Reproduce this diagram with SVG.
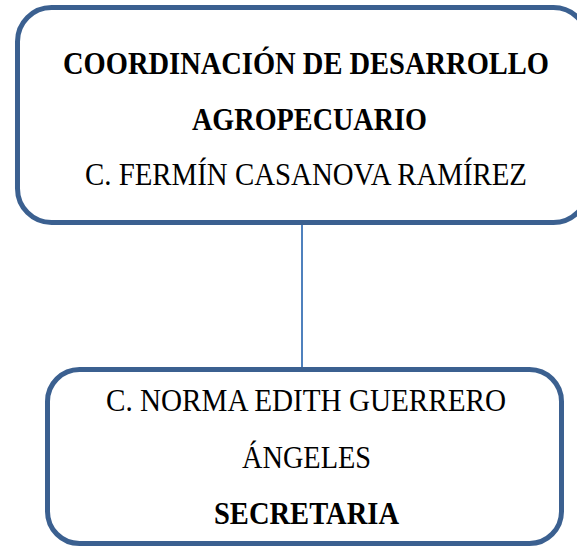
<svg xmlns="http://www.w3.org/2000/svg" width="577" height="546" viewBox="0 0 577 546">
<style>
.box{fill:#fff;stroke:#3B6090;stroke-width:5}
.t{font-family:"Liberation Serif","DejaVu Serif",serif;font-size:32px;fill:#000;text-anchor:middle}
.b{font-weight:bold}
.conn{stroke:#4F81BD;stroke-width:2;fill:none}
</style>
<rect width="577" height="546" fill="#fff"/>
<g id="connectors">
<line class="conn" x1="302" y1="224" x2="302" y2="368"/>
</g>
<g id="node-coordinacion">
<rect class="box" x="17.5" y="7.5" width="570" height="215" rx="34" ry="34"/>
<text class="t b" x="306" y="74" textLength="486" lengthAdjust="spacingAndGlyphs">COORDINACIÓN DE DESARROLLO</text>
<text class="t b" x="309.5" y="130" textLength="235" lengthAdjust="spacingAndGlyphs">AGROPECUARIO</text>
<text class="t" x="306" y="185" textLength="442" lengthAdjust="spacingAndGlyphs">C. FERMÍN CASANOVA RAMÍREZ</text>
</g>
<g id="node-secretaria">
<rect class="box" x="47.5" y="369.5" width="514" height="174" rx="32" ry="32"/>
<text class="t" x="306" y="411" textLength="400" lengthAdjust="spacingAndGlyphs">C. NORMA EDITH GUERRERO</text>
<text class="t" x="306.5" y="468" textLength="129" lengthAdjust="spacingAndGlyphs">ÁNGELES</text>
<text class="t b" x="306.5" y="524" textLength="185" lengthAdjust="spacingAndGlyphs">SECRETARIA</text>
</g>
</svg>
